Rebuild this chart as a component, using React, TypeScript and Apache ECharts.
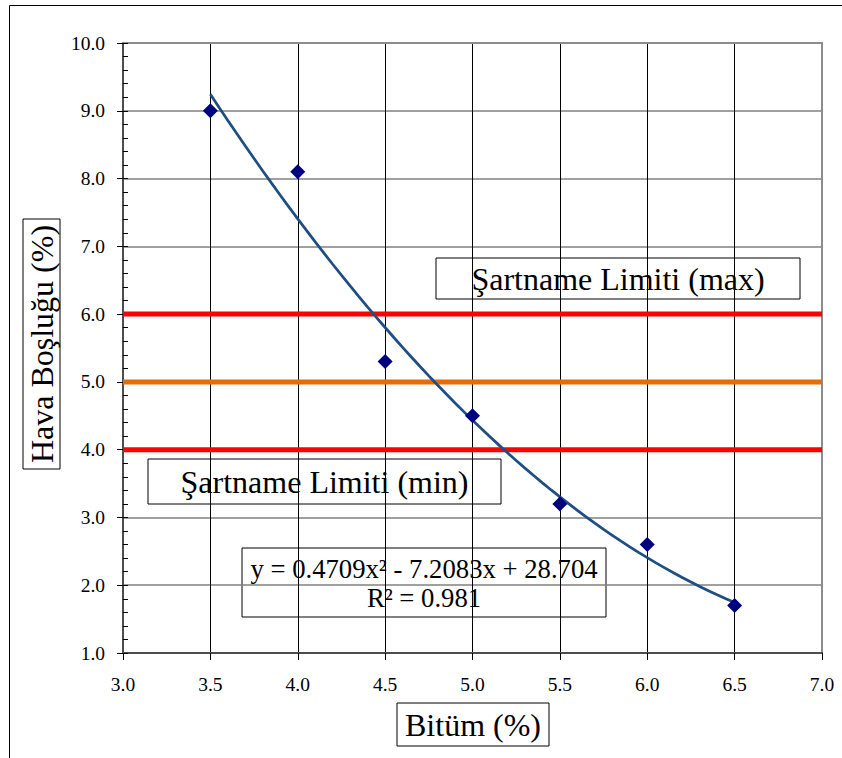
import { useEffect, useRef } from "react";
import * as echarts from "echarts";

// Measured points: bitumen content (%) vs. air voids (%)
const bitumen = [3.5, 4.0, 4.5, 5.0, 5.5, 6.0, 6.5];
const airVoids = [9.0, 8.1, 5.3, 4.5, 3.2, 2.6, 1.7];

// Second-order trendline y = a·x² + b·x + c, as printed in the equation box
const trendCoef = [0.4709, -7.2083, 28.704];
const trendR2 = 0.981;
const trendFrom = 3.5;
const trendTo = 6.5;

// Specification limits
const specMax = 6.0;
const specMid = 5.0;
const specMin = 4.0;

// Axis ranges
const xRange = [3, 7];
const xStep = 0.5;
const yRange = [1, 10];
const yStep = 1;

const xTitle = "Bitüm (%)";
const yTitle = "Hava Boşluğu (%)";
const maxLabel = "Şartname Limiti (max)";
const minLabel = "Şartname Limiti (min)";

const SERIF = "Liberation Serif, Times New Roman, serif";

function trendPoints(): number[][] {
  const [a, b, c] = trendCoef;
  const pts: number[][] = [];
  const n = 60;
  for (let i = 0; i <= n; i++) {
    const x = trendFrom + ((trendTo - trendFrom) * i) / n;
    pts.push([x, a * x * x + b * x + c]);
  }
  return pts;
}

function fmtCoef(v: number): string {
  return Math.abs(v).toString();
}

function equationText(): string {
  const [a, b, c] = trendCoef;
  const sb = b < 0 ? "-" : "+";
  const sc = c < 0 ? "-" : "+";
  return `y = ${fmtCoef(a)}x² ${sb} ${fmtCoef(b)}x ${sc} ${fmtCoef(c)}`;
}

function labelBox(
  x: number,
  y: number,
  w: number,
  h: number,
  text: string,
  fontSize: number,
  rotate = false
): any {
  return {
    type: "group",
    z: 100,
    children: [
      {
        type: "rect",
        shape: { x, y, width: w, height: h },
        style: { fill: "#ffffff", stroke: "#000000", lineWidth: 1 },
      },
      {
        type: "text",
        x: x + w / 2,
        y: y + h / 2,
        rotation: rotate ? Math.PI / 2 : 0,
        style: {
          text,
          fontFamily: SERIF,
          fontSize,
          fill: "#000000",
          align: "center",
          verticalAlign: "middle",
        },
      },
    ],
  };
}

export default function App() {
  const ref = useRef<HTMLDivElement>(null);

  useEffect(() => {
    if (!ref.current) return;
    const chart = echarts.init(ref.current, undefined, { renderer: "svg" });

    const limitSeries = (name: string, v: number, color: string) => ({
      name,
      type: "line",
      data: [
        [xRange[0], v],
        [xRange[1], v],
      ],
      showSymbol: false,
      symbol: "none",
      lineStyle: { color, width: 5 },
      z: 3,
      silent: true,
    });

    const tickLabel = {
      show: true,
      color: "#000000",
      fontFamily: SERIF,
      fontSize: 19.5,
      showMinLabel: true,
      showMaxLabel: true,
      formatter: (v: number) => v.toFixed(1),
    };

    chart.setOption({
      animation: false,
      backgroundColor: "#ffffff",
      textStyle: { fontFamily: SERIF },
      grid: {
        left: 123,
        right: 20,
        top: 43,
        bottom: 105,
        containLabel: false,
        outerBoundsMode: "none",
      },
      xAxis: [
        {
          type: "value",
          min: xRange[0],
          max: xRange[1],
          interval: xStep,
          position: "bottom",
          axisLine: { show: true, onZero: false, lineStyle: { color: "#4d4d4d", width: 2 } },
          axisTick: { show: true, length: 7, lineStyle: { color: "#000000", width: 1 } },
          axisLabel: { ...tickLabel, margin: 21 },
          splitLine: { show: true, lineStyle: { color: "#000000", width: 1 } },
        },
        {
          type: "value",
          min: xRange[0],
          max: xRange[1],
          interval: xStep,
          position: "top",
          axisLine: { show: true, onZero: false, lineStyle: { color: "#8c8c8c", width: 2 } },
          axisTick: { show: false },
          axisLabel: { show: false },
          splitLine: { show: false },
        },
      ],
      yAxis: [
        {
          type: "value",
          min: yRange[0],
          max: yRange[1],
          interval: yStep,
          position: "left",
          axisLine: { show: true, onZero: false, lineStyle: { color: "#4d4d4d", width: 2 } },
          axisTick: { show: true, inside: true, length: 5, lineStyle: { color: "#000000", width: 1 } },
          minorTick: { show: true, splitNumber: 5, length: 5, lineStyle: { color: "#000000", width: 1 } },
          axisLabel: { ...tickLabel, margin: 18 },
          splitLine: { show: true, lineStyle: { color: "#808080", width: 1.5 } },
          minorSplitLine: { show: false },
        },
        {
          // outward major ticks on the value axis
          type: "value",
          min: yRange[0],
          max: yRange[1],
          interval: yStep,
          position: "left",
          axisLine: { show: false, onZero: false },
          axisTick: { show: true, length: 6, lineStyle: { color: "#000000", width: 1 } },
          axisLabel: { show: false },
          splitLine: { show: false },
        },
        {
          type: "value",
          min: yRange[0],
          max: yRange[1],
          interval: yStep,
          position: "right",
          axisLine: { show: true, onZero: false, lineStyle: { color: "#8c8c8c", width: 2 } },
          axisTick: { show: false },
          axisLabel: { show: false },
          splitLine: { show: false },
        },
      ],
      series: [
        limitSeries("max", specMax, "#ff0000"),
        limitSeries("hedef", specMid, "#e46c0a"),
        limitSeries("min", specMin, "#ff0000"),
        {
          name: "trend",
          type: "line",
          data: trendPoints(),
          showSymbol: false,
          symbol: "none",
          smooth: false,
          lineStyle: { color: "#1f4e84", width: 2.75 },
          z: 4,
          silent: true,
        },
        {
          name: "Hava Boşluğu",
          type: "scatter",
          data: bitumen.map((x, i) => [x, airVoids[i]]),
          symbol: "diamond",
          symbolSize: 15,
          itemStyle: { color: "#000080", opacity: 1 },
          z: 5,
        },
      ],
      graphic: [
        {
          type: "polyline",
          shape: {
            points: [
              [842, 5.5],
              [9.5, 5.5],
              [9.5, 758],
            ],
          },
          style: { stroke: "#000000", lineWidth: 1, fill: null },
          z: 100,
        },
        labelBox(23, 219, 37, 250, yTitle, 32, true),
        labelBox(397, 703, 152, 43, xTitle, 32),
        labelBox(436, 258, 364, 41, maxLabel, 32),
        labelBox(148, 459, 353, 45, minLabel, 32),
        {
          type: "group",
          z: 100,
          children: [
            {
              type: "rect",
              shape: { x: 242, y: 548, width: 364, height: 69 },
              style: { fill: "#ffffff", stroke: "#000000", lineWidth: 1 },
            },
            {
              type: "text",
              x: 424,
              y: 569,
              style: {
                text: equationText(),
                fontFamily: SERIF,
                fontSize: 26.7,
                fill: "#000000",
                align: "center",
                verticalAlign: "middle",
              },
            },
            {
              type: "text",
              x: 424,
              y: 598,
              style: {
                text: `R² = ${trendR2}`,
                fontFamily: SERIF,
                fontSize: 26.7,
                fill: "#000000",
                align: "center",
                verticalAlign: "middle",
              },
            },
          ],
        },
      ],
    });

    return () => chart.dispose();
  }, []);

  return (
    <div
      ref={ref}
      style={{ position: "absolute", left: 0, top: 0, width: 842, height: 758 }}
    />
  );
}
